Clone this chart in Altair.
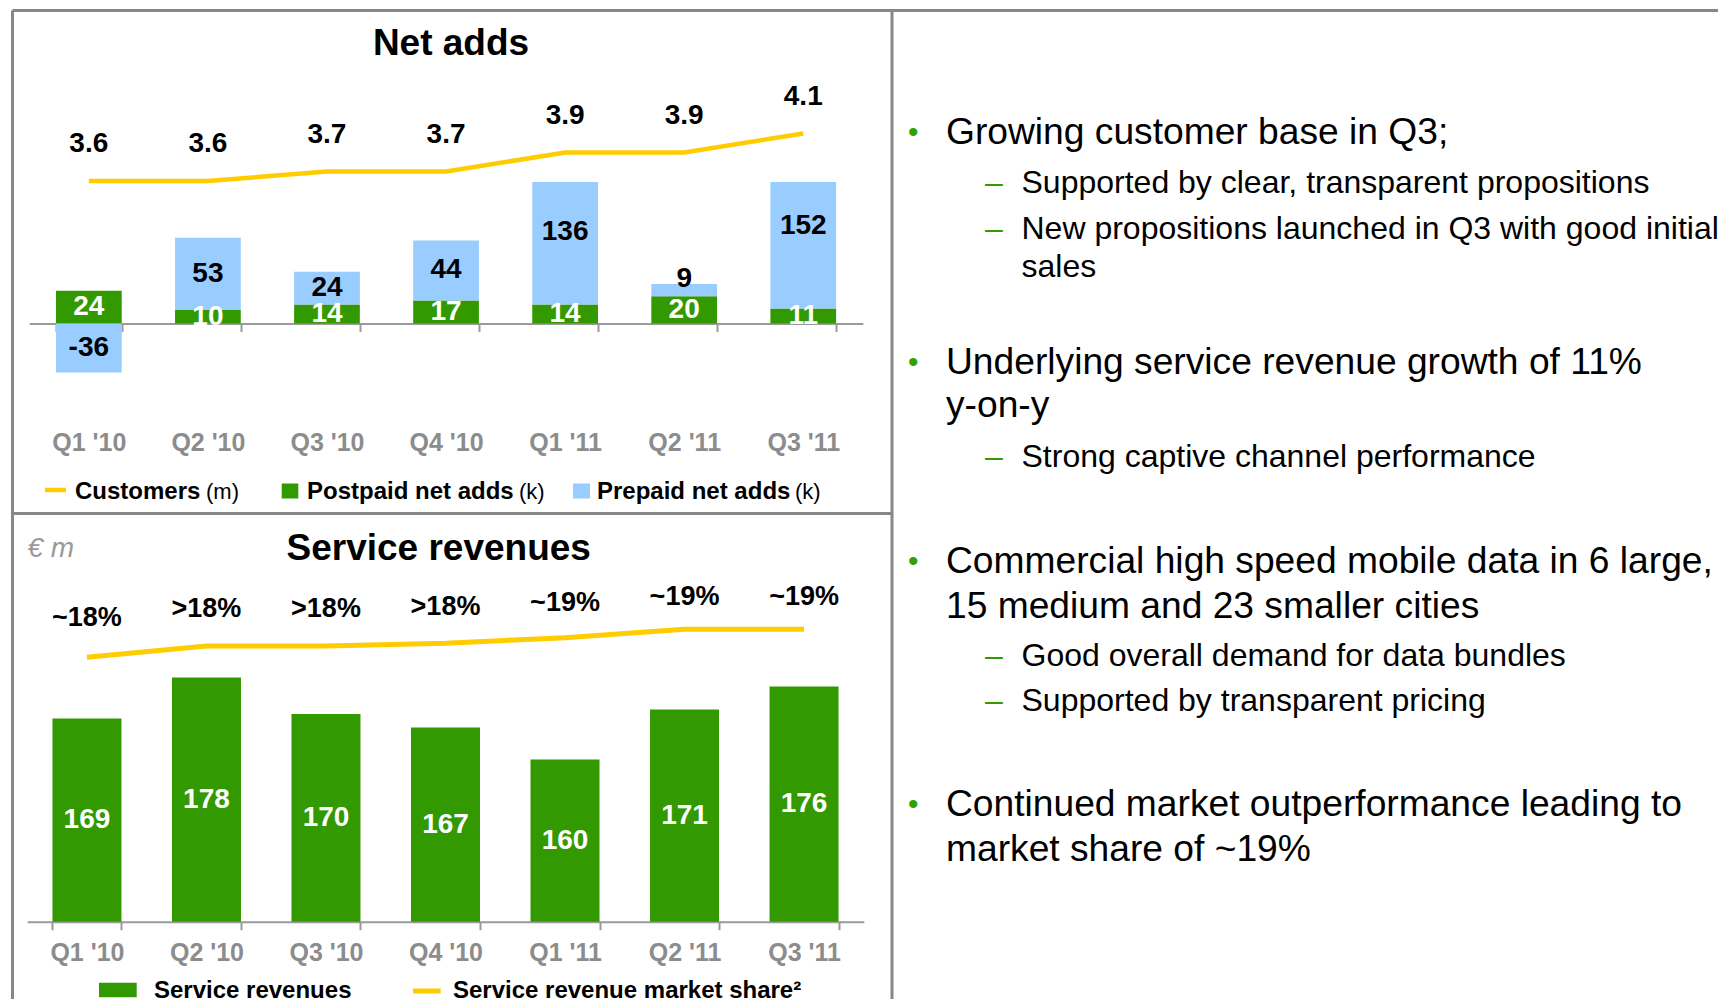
import altair as alt
import numpy as np
import pandas as pd

# ---------------- data ----------------
quarters = ["Q1 '10", "Q2 '10", "Q3 '10", "Q4 '10", "Q1 '11", "Q2 '11", "Q3 '11"]
customers_m = [3.6, 3.6, 3.7, 3.7, 3.9, 3.9, 4.1]
postpaid_k = [24, 10, 14, 17, 14, 20, 11]
prepaid_k = [-36, 53, 24, 44, 136, 9, 152]
service_revenues = [169, 178, 170, 167, 160, 171, 176]
market_share = [17.9, 18.3, 18.3, 18.4, 18.6, 18.9, 18.9]
market_share_labels = ["~18%", ">18%", ">18%", ">18%", "~19%", "~19%", "~19%"]

bullets = [
    ("main", "Growing customer base in Q3;"),
    ("sub", "Supported by clear, transparent propositions"),
    ("sub", "New propositions launched in Q3 with good initial"),
    ("cont_sub", "sales"),
    ("main", "Underlying service revenue growth of 11%"),
    ("cont_main", "y-on-y"),
    ("sub", "Strong captive channel performance"),
    ("main", "Commercial high speed mobile data in 6 large,"),
    ("cont_main", "15 medium and 23 smaller cities"),
    ("sub", "Good overall demand for data bundles"),
    ("sub", "Supported by transparent pricing"),
    ("main", "Continued market outperformance leading to"),
    ("cont_main", "market share of ~19%"),
]
bullet_baselines = [135.7, 185, 230.5, 268.5, 365.5, 409, 459, 564.5, 609.5, 657.5, 703, 808, 853]

# ---------------- style ----------------
W, H = 1710, 991
FONT = "Liberation Sans"
GREEN = "#339900"
BLUE = "#99CCFF"
YELLOW = "#FFCC00"
FRAME = "#878787"
AXIS_C = "#9A9A9A"
LABEL_GRAY = "#8C8C8C"

# scales (pixel ranges place each panel)
TOP_X = dict(type="band", domain=quarters, range=[21.3, 854.8], paddingInner=0.448, paddingOuter=0.224)
CAP = 104
TOP_Y = dict(type="linear", domain=[-40, CAP], range=[369.9, 174.06], clamp=True, zero=False, nice=False)
CUST_Y = dict(type="linear", domain=[3.6, 4.1], range=[173, 125.5], zero=False, nice=False)
BOT_X = dict(type="band", domain=quarters, range=[19.2, 855.8], paddingInner=0.4226, paddingOuter=0.2113)
REV_BASE = 124.4
REV_Y = dict(type="linear", domain=[REV_BASE, 180], range=[913.7, 913.7 - 4.556 * (180 - REV_BASE)],
             zero=False, nice=False, clamp=True)
SHARE_Y = dict(type="linear", domain=[17.9, 18.9], range=[649.3, 621.3], zero=False, nice=False)
SHARE_LABEL_Y = dict(type="linear", domain=[17.9, 18.9], range=[609.9, 588.5], zero=False, nice=False)

TOP_AXIS_Y = 315.5
BOT_AXIS_Y = 913.7

# ---------------- tables ----------------
top = pd.DataFrame({"quarter": quarters, "customers": customers_m,
                    "post": postpaid_k, "pre": prepaid_k})
top["post_s"] = top["post"].astype(str)
top["pre_s"] = top["pre"].astype(str)
top["post_lo"] = 0
top["post_hi"] = top["post"]
top["post_mid"] = top["post"] / 2
top["pre_lo"] = np.where(top["pre"] >= 0, top["post"].clip(lower=0), 0)
top["pre_hi"] = top["pre_lo"] + top["pre"]
pre_lab = (top["pre_lo"] + top["pre_hi"]) / 2
pre_lab = np.where(top["pre_hi"] > CAP, 0.82 * pre_lab, pre_lab)
pre_lab = np.where(top["pre"].abs() < 12, top["pre_hi"] + 4, pre_lab)
top["pre_lab"] = pre_lab

bot = pd.DataFrame({"quarter": quarters, "rev": service_revenues,
                    "share": market_share, "share_label": market_share_labels})
bot["base"] = REV_BASE
bot["rev_mid"] = (bot["rev"] + REV_BASE) / 2

_one = pd.DataFrame({"k": [0]})


def txt(s, x, y, size, weight="normal", color="#000000", align="left", style="normal", baseline="alphabetic"):
    return alt.Chart(_one).mark_text(
        text=s, align=align, baseline=baseline, font=FONT, fontSize=size,
        fontWeight=weight, fontStyle=style, color=color
    ).encode(x=alt.value(x), y=alt.value(y))


def rule(x1, y1, x2, y2, color, width):
    return alt.Chart(_one).mark_rule(color=color, strokeWidth=width).encode(
        x=alt.value(x1), x2=alt.value(x2), y=alt.value(y1), y2=alt.value(y2))


def rect(x1, y1, x2, y2, color):
    return alt.Chart(_one).mark_rect(color=color).encode(
        x=alt.value(x1), x2=alt.value(x2), y=alt.value(y1), y2=alt.value(y2))


def axis_cfg(axis_y, pad):
    return alt.Axis(orient="bottom", offset=axis_y - H, title=None, labelAngle=0,
                    labelFont=FONT, labelFontSize=25, labelFontWeight="bold",
                    labelColor=LABEL_GRAY, labelBaseline="alphabetic", labelPadding=pad,
                    tickBand="extent", tickSize=8, tickColor=AXIS_C, tickWidth=2,
                    domainColor=AXIS_C, domainWidth=2, grid=False, labelAlign="center")


tx = lambda ax=None: alt.X("quarter:N", sort=quarters, scale=alt.Scale(**TOP_X), axis=ax)
bx = lambda ax=None: alt.X("quarter:N", sort=quarters, scale=alt.Scale(**BOT_X), axis=ax)

# ---------------- top chart: Net adds ----------------
post_bars = alt.Chart(top).mark_bar(color=GREEN).encode(
    x=tx(axis_cfg(TOP_AXIS_Y, 118.5)),
    y=alt.Y("post_lo:Q", scale=alt.Scale(**TOP_Y), axis=None), y2="post_hi:Q")
pre_bars = alt.Chart(top).mark_bar(color=BLUE).encode(
    x=tx(), y=alt.Y("pre_lo:Q", scale=alt.Scale(**TOP_Y), axis=None), y2="pre_hi:Q")
post_text = alt.Chart(top).mark_text(font=FONT, fontSize=28, fontWeight="bold", color="white",
                                     baseline="middle").encode(
    x=tx(), y=alt.Y("post_mid:Q", scale=alt.Scale(**TOP_Y), axis=None), text="post_s:N")
pre_text = alt.Chart(top).mark_text(font=FONT, fontSize=28, fontWeight="bold", color="black",
                                    baseline="middle").encode(
    x=tx(), y=alt.Y("pre_lab:Q", scale=alt.Scale(**TOP_Y), axis=None), text="pre_s:N")
cust_line = alt.Chart(top).mark_line(color=YELLOW, strokeWidth=4.5).encode(
    x=tx(), y=alt.Y("customers:Q", scale=alt.Scale(**CUST_Y), axis=None))
cust_text = alt.Chart(top).mark_text(font=FONT, fontSize=28, fontWeight="bold", color="black",
                                     baseline="middle", dy=-37).encode(
    x=tx(), y=alt.Y("customers:Q", scale=alt.Scale(**CUST_Y), axis=None),
    text=alt.Text("customers:Q", format=".1f"))

# ---------------- bottom chart: Service revenues ----------------
rev_bars = alt.Chart(bot).mark_bar(color=GREEN).encode(
    x=bx(axis_cfg(BOT_AXIS_Y, 31)),
    y=alt.Y("rev:Q", scale=alt.Scale(**REV_Y), axis=None), y2="base:Q")
rev_text = alt.Chart(bot).mark_text(font=FONT, fontSize=28, fontWeight="bold", color="white",
                                    baseline="middle").encode(
    x=bx(), y=alt.Y("rev_mid:Q", scale=alt.Scale(**REV_Y), axis=None), text=alt.Text("rev:Q", format="d"))
share_line = alt.Chart(bot).mark_line(color=YELLOW, strokeWidth=5).encode(
    x=bx(), y=alt.Y("share:Q", scale=alt.Scale(**SHARE_Y), axis=None))
share_text = alt.Chart(bot).mark_text(font=FONT, fontSize=27, fontWeight="bold", color="black",
                                      baseline="middle").encode(
    x=bx(), y=alt.Y("share:Q", scale=alt.Scale(**SHARE_LABEL_Y), axis=None), text="share_label:N")

# ---------------- frames, titles, legends ----------------
deco = [
    rule(4.5, 2.5, W, 2.5, FRAME, 3),
    rule(4.5, 2.5, 4.5, H, FRAME, 3),
    rule(884, 2.5, 884, H, FRAME, 3),
    rule(4.5, 505.5, 884, 505.5, FRAME, 3),
    txt("Net adds", 443, 47, 37, "bold", align="center"),
    txt("Service revenues", 430.7, 552, 37, "bold", align="center"),
    txt("€ m", 19.5, 549, 28, color="#999999", style="italic"),
    # top legend
    rule(37, 482, 58, 482, YELLOW, 4.5),
    txt("Customers", 67, 490.5, 24, "bold"),
    txt("(m)", 198, 490.5, 22),
    rect(273.7, 475.5, 290.3, 490.5, GREEN),
    txt("Postpaid net adds", 299, 490.5, 24, "bold"),
    txt("(k)", 511, 490.5, 22),
    rect(565, 475.5, 582, 490.5, BLUE),
    txt("Prepaid net adds", 589, 490.5, 24, "bold"),
    txt("(k)", 787, 490.5, 22),
    # bottom legend
    rect(91, 974.7, 128.7, 989.3, GREEN),
    txt("Service revenues", 146, 989.5, 24, "bold"),
    rule(405, 983, 432.7, 983, YELLOW, 5),
    txt("Service revenue market share²", 445, 989.5, 24, "bold"),
]

# right-hand bullet text
for (kind, s), yb in zip(bullets, bullet_baselines):
    if kind == "main":
        deco.append(txt("•", 905.3, yb - 2, 30, color="#33A000", align="center"))
        deco.append(txt(s, 938, yb, 37.2))
    elif kind == "cont_main":
        deco.append(txt(s, 938, yb, 37.2))
    elif kind == "sub":
        deco.append(txt("–", 977, yb, 32, color=GREEN))
        deco.append(txt(s, 1013.5, yb, 32))
    else:
        deco.append(txt(s, 1013.5, yb, 32))

chart = alt.layer(
    *deco,
    post_bars, pre_bars, post_text, pre_text, cust_line, cust_text,
    rev_bars, rev_text, share_line, share_text,
).resolve_scale(x="independent", y="independent").resolve_axis(
    x="independent", y="independent"
).properties(
    width=W, height=H, padding=0, autosize=alt.AutoSizeParams(type="none")
).configure_view(stroke=None)

chart.save("out.html", embed_options={"renderer": "svg", "actions": False})
